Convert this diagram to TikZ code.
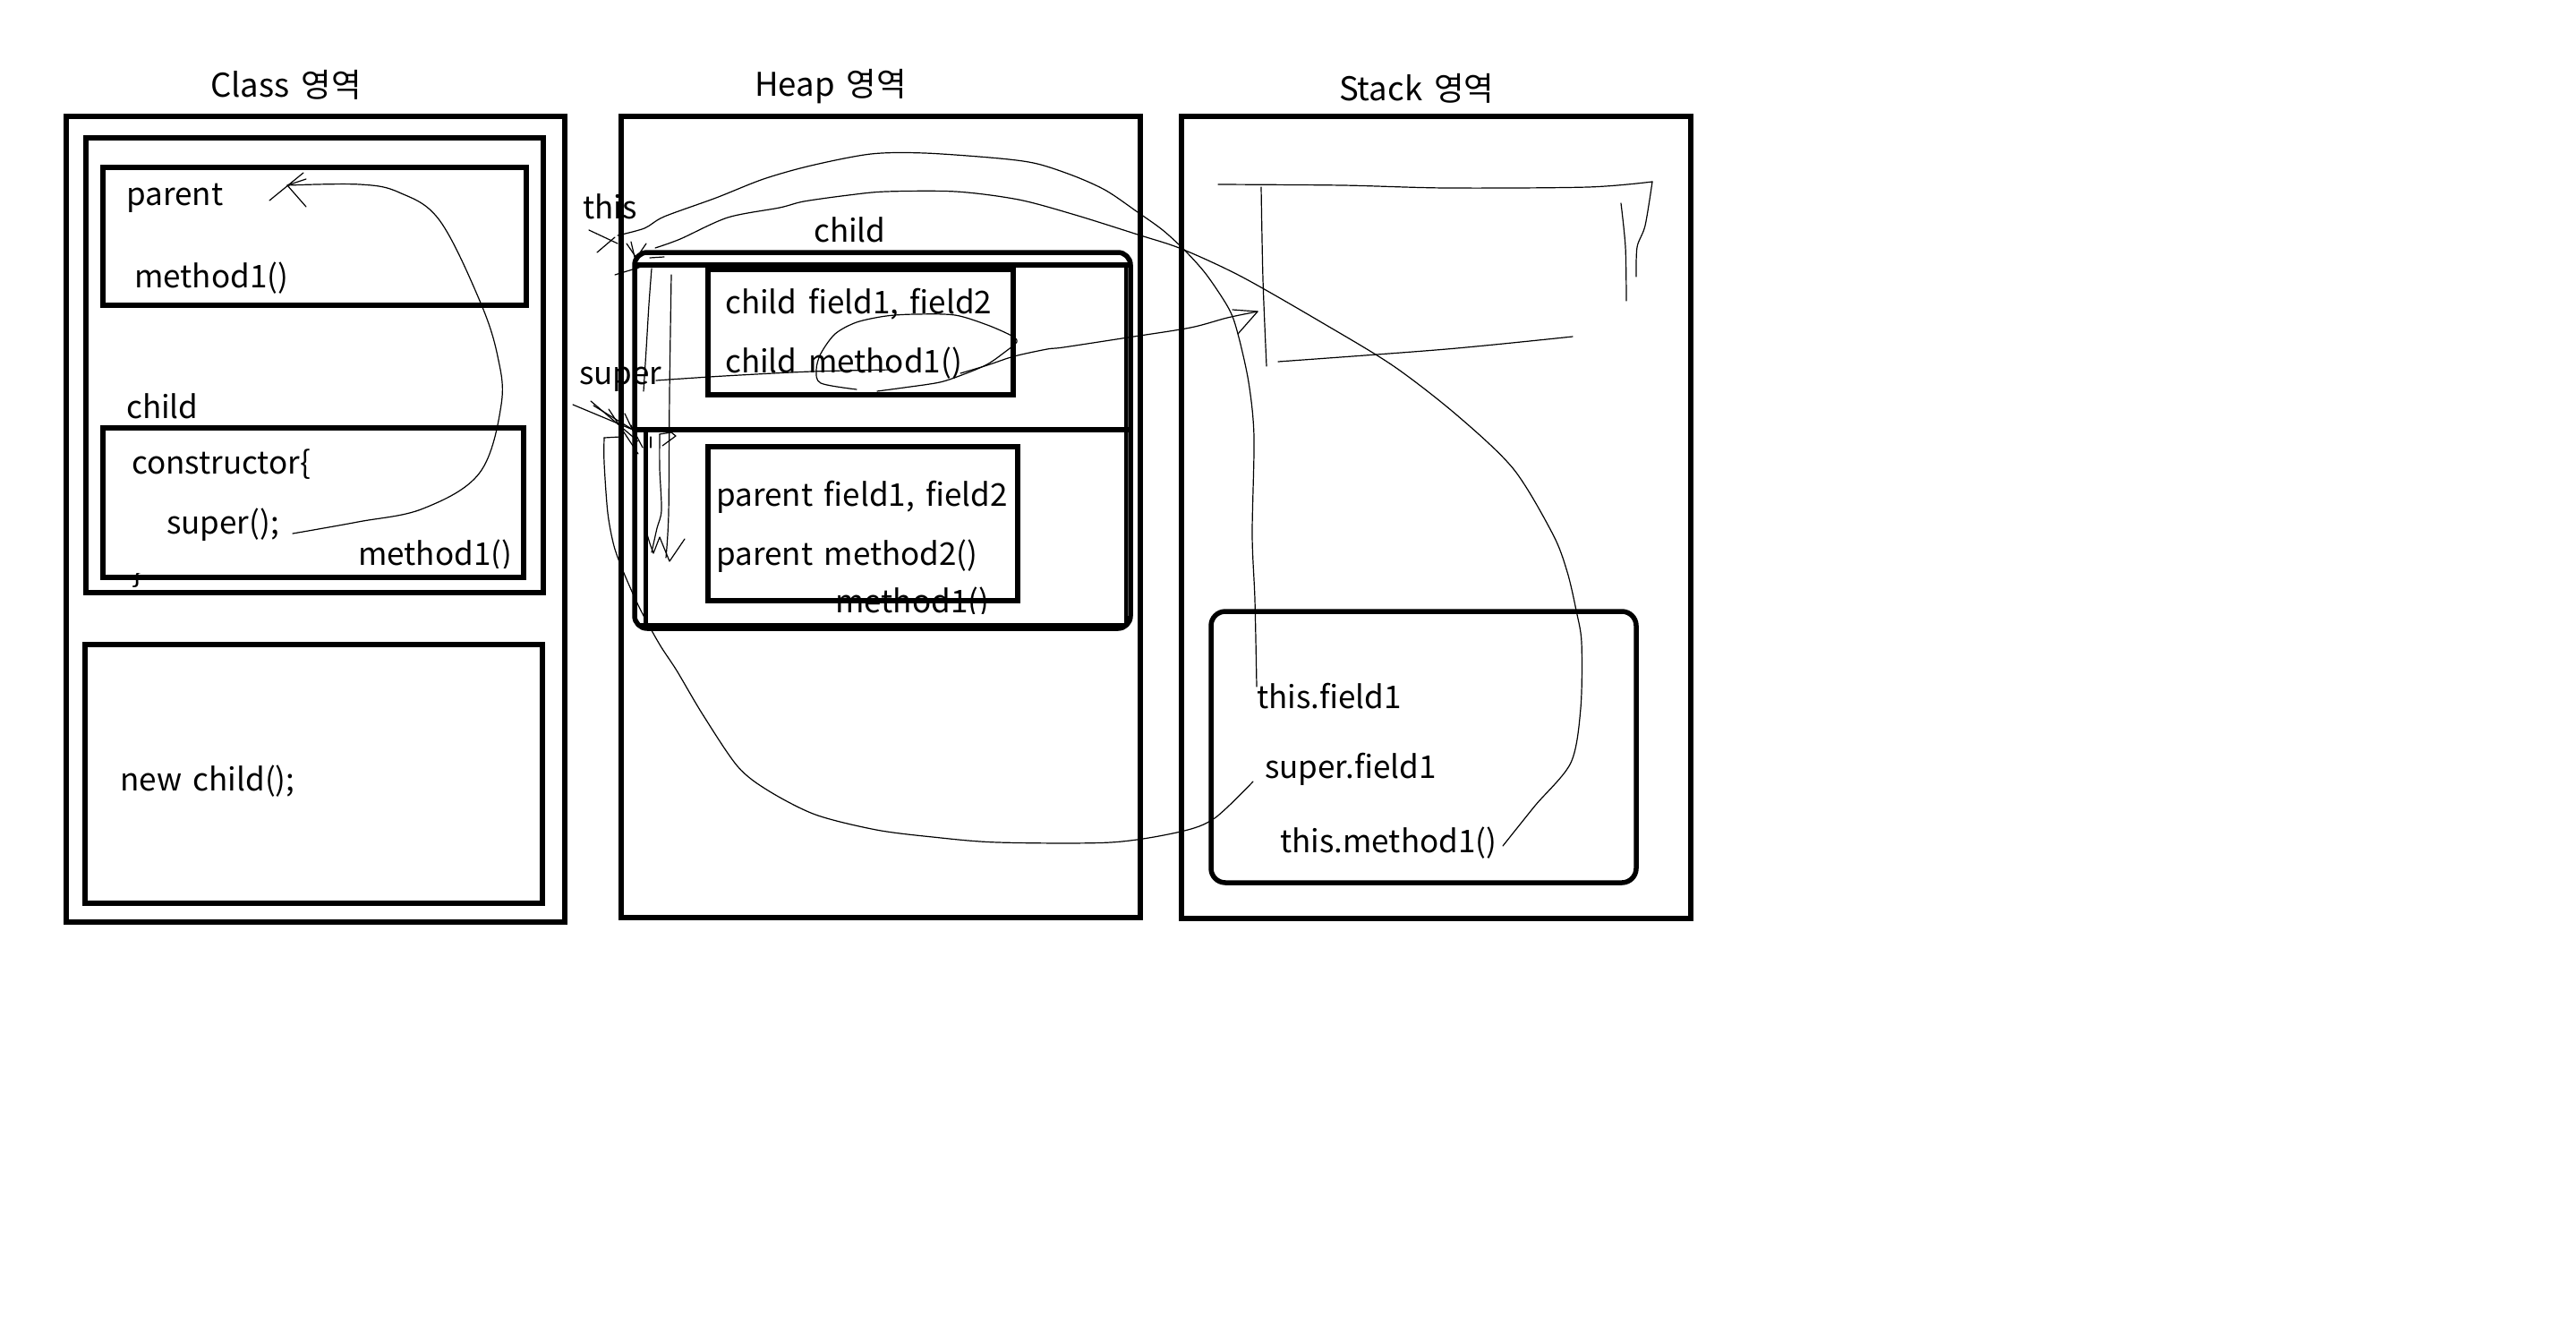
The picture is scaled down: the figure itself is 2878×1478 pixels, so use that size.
\documentclass[tikz,border=0pt]{standalone}
\usepackage{fontspec}
\setmainfont{Noto Sans CJK KR}[WordSpace=1.6]
\begin{document}
\begin{tikzpicture}[x=1pt,y=-1pt,
  box/.style={draw, line width=5.5pt},
  txt/.style={anchor=base west, inner sep=0pt, font=\fontsize{35}{42}\selectfont},
  ttl/.style={anchor=base west, inner sep=0pt, font=\fontsize{36.5}{44}\selectfont},
  pen/.style={line width=1.2pt, line cap=round, line join=round}]
\fill[white] (0,0) rectangle (2878,1478);
\useasboundingbox (0,0) rectangle (2878,1478);

% ---------- titles
\node[ttl] (classT) at (235,108) {Class 영역};
\node[ttl] (heapT) at (843,107) {Heap 영역};
\node[ttl] (stackT) at (1496,112) {Stack 영역};

% ---------- Class area
\node[txt] (cparent) at (141,229) {parent};
\node[txt] (cpm) at (150,321) {method1()};
\node[txt] (cchild) at (141,467) {child};
\node[txt] (ccons) at (147,529) {constructor\{};
\node[txt] (csuper) at (186,596) {super();};
\begin{scope}
  \clip (380,590) rectangle (600,634);
  \node[txt] (ccm) at (400,631) {method1()};
\end{scope}
\begin{scope}
  \clip (130,640) rectangle (180,670);
  \node[txt] (cbrace) at (147,650) {\}};
\end{scope}
\node[txt] (cnew) at (134,883) {new child();};

\draw[box] (74,130) rectangle (631,1030);
\draw[box] (96,154) rectangle (607,662);
\draw[box] (115,187) rectangle (588,341);
\draw[box] (115,478) rectangle (585,645);
\draw[box] (95,720) rectangle (606,1009);

\coordinate (cS) at (327,596);
\coordinate (cE) at (321,207);
\draw[pen] plot[smooth, tension=0.6] coordinates {(cS) (400,583) (473,568) (536,528) (560,452) (556,398) (536,336) (491,246) (446,215) (402,206) (cE)};
\draw[pen] (301,224) -- (339,193);
\draw[pen] (cE) -- (342,231);
\draw[pen] (cE) -- (342,200);

% ---------- Heap area
\node[txt] (hchildT) at (909,270) {child};
\node[txt] (hthis) at (651,244) {this};
\node[txt] (hsuper) at (647,429) {super};
\node[txt] (hcf) at (810,350) {child field1, field2};
\node[txt] (hcm) at (810,416) {child method1()};
\node[txt] (hpf) at (800,565) {parent field1, field2};
\node[txt] (hpm) at (800,631) {parent method2()};
\begin{scope}
  \clip (900,640) rectangle (1150,685);
  \node[txt] (hm1) at (933,684) {method1()};
\end{scope}

\draw[box] (694,130) rectangle (1274,1025);
\draw[box, rounded corners=14pt] (709,282) rectangle (1263,702);
\draw[line width=6pt] (709,296) -- (1263,296);
\draw[line width=5.5pt] (709,480) -- (1263,480);
\draw[line width=5pt] (721,482) -- (721,700);
\draw[line width=4pt] (1258,296) -- (1258,700);
\draw[line width=4pt] (712,698) -- (1260,698);
\draw[box] (791,301) rectangle (1132,441);
\draw[box] (791,499) rectangle (1137,671);

% ---------- Stack area
\node[txt] (sf) at (1404,791) {this.field1};
\node[txt] (ssf) at (1413,869) {super.field1};
\node[txt] (smc) at (1430,952) {this.method1()};

\draw[box] (1320,130) rectangle (1889,1026);
\draw[box, rounded corners=16pt] (1353,683) rectangle (1828,986);

% stack frame sketch
\draw[pen] plot[smooth] coordinates {(1361,206) (1500,207) (1616,210) (1774,209) (1846,203)};
\draw[pen] plot[smooth] coordinates {(1409,209) (1411,312) (1415,409)};
\draw[pen] plot[smooth] coordinates {(1428,404) (1616,390) (1757,376)};
\draw[pen] plot[smooth] coordinates {(1846,203) (1838,252) (1829,276) (1828,309)};
\draw[pen] plot[smooth] coordinates {(1811,227) (1816,276) (1817,336)};

% ---------- connectors
\coordinate (thisTip) at (711,288);
\coordinate (superTip) at (707,480);
\coordinate (sfIn) at (1404,767);
\coordinate (smIn) at (1679,945);
\coordinate (ssfIn) at (1400,873);
\coordinate (frameIn) at (1405,348);

% this -> this.field1
\draw[pen] plot[smooth] coordinates {(690,263) (720,255) (742,242) (800,221) (853,200) (906,185) (973,172) (1033,171) (1117,177) (1159,183) (1201,197) (1236,213) (1271,237) (1299,257) (1324,280) (1348,307) (1373,345) (1383,373) (1395,427) (1401,488) (1399,597) (1402,670) (sfIn)};
% this -> this.method1()
\draw[pen] plot[smooth] coordinates {(732,277) (760,267) (813,243) (871,232) (898,225) (948,218) (990,214) (1068,214) (1138,223) (1201,240) (1271,262) (1320,278) (1387,309) (1478,361) (1557,409) (1628,464) (1691,524) (1735,597) (1751,639) (1761,682) (1767,718) (1766,791) (1755,852) (1715,900) (smIn)};
% super -> super.field1
\draw[pen] (693,488) -- (675,489);
\draw[pen] plot[smooth] coordinates {(675,489) (675,517) (679,573) (686,610) (697,640) (715,680) (737,720) (756,749) (785,798) (824,856) (858,883) (911,910) (979,927) (1042,935) (1115,941) (1241,941) (1319,929) (1357,914) (ssfIn)};
% ellipse around child method1()
\draw[pen] plot[smooth] coordinates {(957,435) (917,428) (912,413) (917,395) (933,373) (957,360) (990,353) (1023,351) (1067,352) (1103,363) (1130,375) (1136,382) (1123,393) (1103,407) (1077,418) (1050,427) (1010,433) (980,437)};
\draw[pen] plot[smooth] coordinates {(1073,417) (1103,408) (1133,398) (1170,390) (1188,388) (1260,377) (1330,366) (1371,355) (frameIn)};
\draw[pen] (1377,346) -- (frameIn) -- (1383,373);
% super line
\draw[pen] plot[smooth] coordinates {(733,425) (809,420) (907,415) (997,413)};

% vertical scribbles in heap
\draw[pen] plot[smooth] coordinates {(728,300) (725,340) (722,390) (719,437)};
\draw[pen] plot[smooth] coordinates {(750,307) (748,440) (747,573) (744,623)};
\draw[pen] plot[smooth] coordinates {(737,485) (737,523) (739,570) (734,590) (728,617)};
\draw[pen] (720,587) -- (726,607) -- (730,618) -- (737,600) -- (748,627) -- (765,602);
\draw[pen] (737,485) -- (750,483) -- (755,487) -- (740,498);
\draw[pen] (727,488) -- (727,500);

% this arrowhead scribble
\draw[pen] (658,257) -- (690,272);
\draw[pen] (667,282) -- (687,265);
\draw[pen] (687,307) -- (720,297);
\draw[pen] (700,272) -- (thisTip) -- (722,272);
\draw[pen] (705,270) -- (712,300);
\draw[pen] (726,288) -- (742,287);

% super arrowhead scribble
\draw[pen] (640,452) -- (superTip);
\draw[pen] (660,448) -- (713,493);
\draw[pen] (663,453) -- (superTip);
\draw[pen] (680,457) -- (713,507);
\draw[pen] (698,462) -- (708,483);
\draw[pen] (705,475) -- (718,500);
\end{tikzpicture}
\end{document}
